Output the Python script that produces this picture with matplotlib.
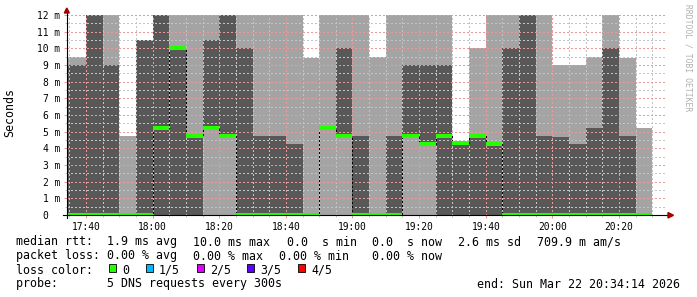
"""
SmokePing style latency chart: DNS probe, 3 hours, 5 pings per 5-minute step
"""

import matplotlib
matplotlib.use("Agg")
import matplotlib.pyplot as plt
from matplotlib.patches import Polygon, Rectangle
from matplotlib.ticker import FixedLocator, MultipleLocator

W, H = 697, 297

# window shown on the time axis
window_start = "17:34:14"
window_end = "20:34:14"

# start of each 5-minute step
bin_start = ["17:35", "17:40", "17:45", "17:50", "17:55", "18:00", "18:05",
             "18:10", "18:15", "18:20", "18:25", "18:30", "18:35", "18:40",
             "18:45", "18:50", "18:55", "19:00", "19:05", "19:10", "19:15",
             "19:20", "19:25", "19:30", "19:35", "19:40", "19:45", "19:50",
             "19:55", "20:00", "20:05", "20:10", "20:15", "20:20", "20:25"]

# the five sorted pings of each step, in ms (values above 12 are off the chart)
ping_1 = [0.0] * 35
ping_2 = [0, 0, 0, 0, 0, 0, 0, 0, 5.25, 4.75, 0, 0, 0, 0, 0, 5.25, 4.75, 0,
          0, 0, 4.75, 4.25, 0, 0, 0, 0, 0, 0, 0, 0, 0, 0, 0, 0, 0]
median = [0, 0, 0, 0, 0, 5.25, 10.0, 4.75, 5.25, 4.75, 0, 0, 0, 0, 0, 5.25,
          4.75, 0, 0, 0, 4.75, 4.25, 4.75, 4.3, 4.75, 4.25, 0, 0, 0, 0, 0,
          0, 0, 0, 0]
ping_4 = [9.0, 14, 9.0, 0, 10.5, 14, 10.0, 4.75, 10.5, 14, 10.0, 4.75, 4.75,
          4.25, 0, 5.25, 10.0, 4.75, 0, 4.75, 9.0, 9.0, 9.0, 4.3, 4.75, 4.25,
          10.0, 14, 4.75, 4.7, 4.25, 5.25, 10.0, 4.75, 0]
ping_5 = [9.5, 14, 14, 4.75, 10.5, 14, 14, 14, 14, 14, 14, 14, 14, 14, 9.45,
          14, 14, 14, 9.5, 14, 14, 14, 14, 4.3, 10.0, 14, 14, 14, 14, 9.0,
          9.0, 9.5, 14, 9.45, 5.25]

x_tick_labels = ["17:40", "18:00", "18:20", "18:40", "19:00", "19:20",
                 "19:40", "20:00", "20:20"]
y_ticks = list(range(0, 13))

loss_labels = ["0", "1/5", "2/5", "3/5", "4/5"]
loss_colors = ["#26ff00", "#00b8ff", "#dd00ff", "#5e00ff", "#ff0000"]

stats_rtt = ["median rtt:  1.9 ms avg", "10.0 ms max", "0.0  s min",
             "0.0  s now", "2.6 ms sd", "709.9 m am/s"]
stats_loss = ["packet loss: 0.00 % avg", "0.00 % max", "0.00 % min",
              "0.00 % now"]
probe_text = "probe:       5 DNS requests every 300s"
end_text = "end: Sun Mar 22 20:34:14 2026"


def to_min(s):
    parts = [float(p) for p in s.split(":")]
    return parts[0] * 60 + parts[1] + (parts[2] / 60 if len(parts) > 2 else 0)


def fx(x):
    return x / W


def fy(y):
    return 1 - y / H


t0, t1 = to_min(window_start), to_min(window_end)
edges = [to_min(s) for s in bin_start] + [to_min(bin_start[-1]) + 5]
edges[0] = min(edges[0], t0)

MONO = "DejaVu Sans Mono"
LIGHT, DARK = "#a4a4a4", "#585858"
MGRID = "#e89a9a"
GRID = "#c4c4c4"
DOT = (0, (1, 2))
ARROW = "#a00000"

fig = plt.figure(figsize=(W / 100, H / 100), dpi=100)
left, right, top, bottom = 66.8, 666.4, 15, 215
ax = fig.add_axes([fx(left), fy(bottom), fx(right - left), (bottom - top) / H])
ax.set_xlim(t0, t1)
ax.set_ylim(0, 12)

# smoke: outer pings light, inner pings dark
ax.stairs(ping_5, edges, baseline=ping_1, fill=True, color=LIGHT, lw=0, zorder=1)
ax.stairs(ping_4, edges, baseline=ping_2, fill=True, color=DARK, lw=0, zorder=2)

# grid over the smoke
ax.set_axisbelow(False)
ax.xaxis.set_major_locator(FixedLocator([to_min(s) for s in x_tick_labels]))
ax.xaxis.set_minor_locator(MultipleLocator(5))
ax.set_xticklabels(x_tick_labels)
ax.yaxis.set_major_locator(FixedLocator(y_ticks))
ax.yaxis.set_minor_locator(MultipleLocator(0.5))
ax.set_yticklabels([f"{v} m" if v else "0  " for v in y_ticks])
ax.grid(which="major", color=MGRID, linestyle=DOT, lw=1.0, antialiased=False)
ax.grid(which="minor", color=GRID, linestyle=DOT, lw=1.0, antialiased=False)
ax.tick_params(which="major", length=2.2, width=0.72, color=MGRID, pad=2.5,
               labelsize=6.9, labelfontfamily=MONO, labelcolor="black")
ax.tick_params(which="minor", length=1.5, width=0.72, color=GRID)
ax.tick_params(axis="x", which="major", pad=3.2)
for s in ax.spines.values():
    s.set_visible(False)

# median: dotted steps, loss-coloured flats
ax.stairs(median, edges, baseline=None, color="black", linestyle=DOT,
          lw=1.0, antialiased=False, zorder=3)
ax.hlines(median, edges[:-1], edges[1:], color=loss_colors[0], lw=1.5,
          antialiased=False, zorder=4)

# axis lines with arrows
fig.add_artist(plt.Line2D([fx(63), fx(668)], [fy(215.3)] * 2, color="black",
                          lw=0.8, zorder=10))
fig.add_artist(plt.Line2D([fx(66.8)] * 2, [fy(218), fy(12)], color="black",
                          lw=0.8, zorder=10))
fig.add_artist(Polygon([(fx(668), fy(212.5)), (fx(673.5), fy(215.3)),
                        (fx(668), fy(218))], closed=True, color=ARROW, zorder=11))
fig.add_artist(Polygon([(fx(64.3), fy(13)), (fx(66.8), fy(8)),
                        (fx(69.3), fy(13))], closed=True, color=ARROW, zorder=11))

fig.text(fx(10), fy(113), "Seconds", rotation=90, ha="center", va="center",
         fontsize=8.4, family=MONO)
fig.text(fx(688), fy(4), "RRDTOOL / TOBI OETIKER", rotation=270, ha="center",
         va="top", fontsize=5.8, family=MONO, color="#b0b0b0")

# legend block
txt = dict(fontsize=8.4, family=MONO, va="baseline", ha="left")
for x, s in zip([16.5, 193, 287, 372, 458, 537], stats_rtt):
    fig.text(fx(x), fy(245.5), s, **txt)
for x, s in zip([16.5, 193, 279, 372], stats_loss):
    fig.text(fx(x), fy(259.5), s, **txt)
fig.text(fx(16.5), fy(273.5), "loss color:", **txt)
for bx, lab, col in zip([109, 146, 197, 247, 298], loss_labels, loss_colors):
    fig.add_artist(Rectangle((fx(bx), fy(271.8)), fx(7), 7.4 / H, facecolor=col,
                             edgecolor="black", lw=0.6))
    fig.text(fx(bx + 13), fy(273.5), lab, **txt)
fig.text(fx(16.5), fy(287.5), probe_text, **txt)
fig.text(fx(680), fy(287.5), end_text, **dict(txt, ha="right"))

fig.savefig("out.png", dpi=100)
